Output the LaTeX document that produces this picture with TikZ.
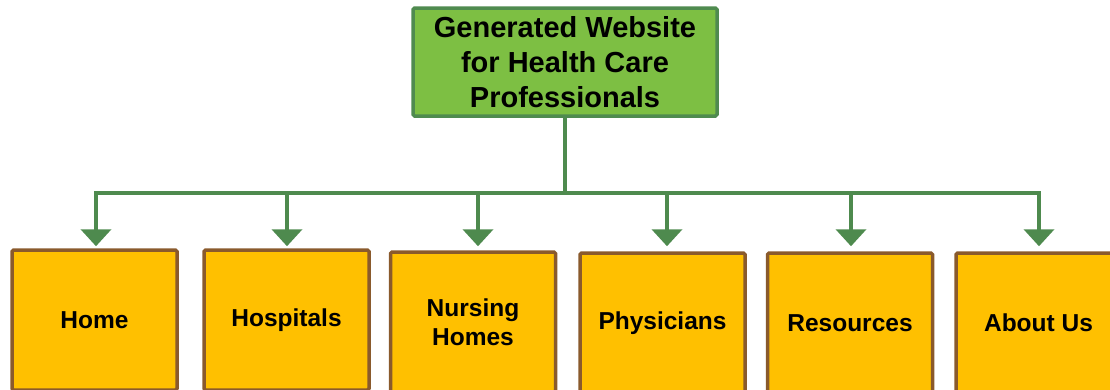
\documentclass[tikz,border=0pt]{standalone}
\usepackage{fontspec}
\setmainfont{Liberation Sans}
\usetikzlibrary{arrows.meta}
\definecolor{topfill}{HTML}{7DBF43}
\definecolor{topdraw}{HTML}{4F8B4F}
\definecolor{conn}{HTML}{4E8A4E}
\definecolor{leaffill}{HTML}{FFC000}
\definecolor{leafdraw}{HTML}{8A5A2C}
\tikzset{
  topbox/.style={draw=topdraw, fill=topfill, line width=3.5pt, rounded corners=1.5pt, minimum width=304pt, minimum height=108pt, inner sep=0pt, align=center, font=\bfseries\fontsize{29}{35}\selectfont},
  leafbox/.style={draw=leafdraw, fill=leaffill, line width=3.5pt, rounded corners=1.5pt, minimum width=165pt, minimum height=140pt, inner sep=0pt, align=center, font=\bfseries\fontsize{24.5}{29}\selectfont},
  stem/.style={draw=conn, line width=4pt},
  arr/.style={draw=conn, line width=4pt, -{Triangle[width=30pt,length=17pt]}}
}
\begin{document}
\begin{tikzpicture}[x=1pt,y=-1pt]
\useasboundingbox (0,0) rectangle (1110,389);
\clip (0,0) rectangle (1110,389);
\node[topbox] (root) at (565,62) {Generated Website\\for Health Care\\Professionals};
\node[leafbox] (home) at (94.5,320) {Home};
\node[leafbox] (hosp) at (286.5,320) {Hospitals};
\node[leafbox] (nurs) at (473,322) {Nursing\\Homes};
\node[leafbox] (phys) at (662.5,323) {Physicians};
\node[leafbox] (reso) at (850,323) {Resources};
\node[leafbox] (about) at (1038.5,323) {About Us};
\draw[stem] (root.south) -- ++(0,75) coordinate (bus);
\draw[arr] (bus) -| ([xshift=1.5pt,yshift=2pt]home.north);
\draw[arr] (bus) -| ([xshift=0.5pt,yshift=2pt]hosp.north);
\draw[arr] (bus) -| ([xshift=5pt,yshift=4pt]nurs.north);
\draw[arr] (bus) -| ([xshift=4.5pt,yshift=5pt]phys.north);
\draw[arr] (bus) -| ([xshift=1pt,yshift=5pt]reso.north);
\draw[arr] (bus) -| ([xshift=0.5pt,yshift=5pt]about.north);
\end{tikzpicture}
\end{document}
